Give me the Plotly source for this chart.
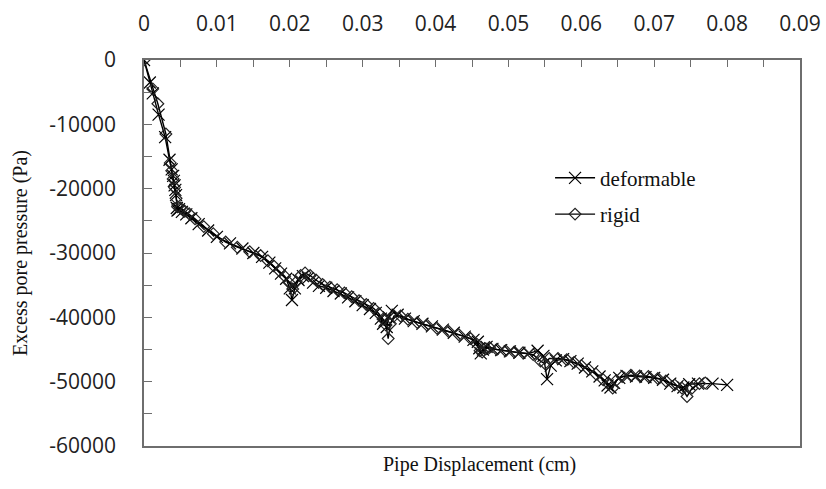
import plotly.graph_objects as go

# ---- data ----
def_x = [0, 0.0008, 0.0012, 0.002, 0.0029, 0.0035, 0.0038, 0.0040, 0.0041, 0.0042,
         0.0043, 0.0044, 0.0045, 0.0046, 0.0048, 0.0052, 0.0058, 0.0065, 0.0075, 0.0088,
         0.0100, 0.0118, 0.0135, 0.0150, 0.0162, 0.0172, 0.0180, 0.0188, 0.0195, 0.0200,
         0.0203, 0.0207, 0.0212, 0.0218, 0.0225, 0.0232, 0.0240, 0.0250, 0.0260, 0.0270,
         0.0280, 0.0290, 0.0300, 0.0310, 0.0318, 0.0325, 0.0328, 0.0330, 0.0333, 0.0336,
         0.0340, 0.0348, 0.0358, 0.0370, 0.0382, 0.0395, 0.0410, 0.0425, 0.0440, 0.0452,
         0.0458, 0.0460, 0.0462, 0.0465, 0.0470, 0.0478, 0.0490, 0.0502, 0.0515, 0.0528,
         0.0540, 0.0548, 0.0553, 0.0558, 0.0565, 0.0575, 0.0585, 0.0595, 0.0605, 0.0615,
         0.0625, 0.0632, 0.0636, 0.0640, 0.0645, 0.0652, 0.0662, 0.0675, 0.0688, 0.0700,
         0.0712, 0.0722, 0.0732, 0.0740, 0.0748, 0.0760, 0.0780, 0.0800]
def_y = [0, -3500, -5200, -8500, -12000, -15500, -17000, -18000, -18800, -19500,
         -20200, -21000, -23000, -23400, -23200, -23600, -24000, -24600, -25500, -26500,
         -27500, -28500, -29300, -30000, -30600, -31500, -32400, -33200, -34000, -35500,
         -37300, -35500, -34200, -33600, -33900, -34600, -35100, -35400, -35900, -36300,
         -36900, -37500, -38100, -38700, -39300, -40200, -41000, -40500, -41500, -40000,
         -39000, -39600, -40200, -40600, -41000, -41400, -41900, -42400, -43000, -43500,
         -43800, -44800, -45600, -45000, -44600, -44900, -45100, -45300, -45500, -45600,
         -45200, -46000, -49600, -47500, -46700, -46500, -46800, -47200, -47800, -48400,
         -49200, -49800, -50600, -50900, -50200, -49400, -49100, -49200, -49300, -49400,
         -49700, -50300, -50700, -50900, -50400, -50300, -50300, -50500]

rig_x = [0, 0.0012, 0.0019, 0.0030, 0.0036, 0.0038, 0.0040, 0.0042, 0.0044, 0.0046,
         0.0050, 0.0056, 0.0062, 0.0070, 0.0082, 0.0095, 0.0112, 0.0128, 0.0145, 0.0160,
         0.0170, 0.0178, 0.0186, 0.0193, 0.0199, 0.0204, 0.0209, 0.0215, 0.0221, 0.0228,
         0.0236, 0.0245, 0.0255, 0.0265, 0.0275, 0.0285, 0.0295, 0.0305, 0.0315, 0.0322,
         0.0328, 0.0332, 0.0335, 0.0338, 0.0343, 0.0352, 0.0362, 0.0375, 0.0388, 0.0402,
         0.0418, 0.0432, 0.0448, 0.0457, 0.0461, 0.0464, 0.0468, 0.0474, 0.0484, 0.0496,
         0.0508, 0.0520, 0.0534, 0.0544, 0.0550, 0.0556, 0.0568, 0.0580, 0.0590, 0.0600,
         0.0610, 0.0620, 0.0630, 0.0638, 0.0643, 0.0648, 0.0656, 0.0668, 0.0680, 0.0692,
         0.0705, 0.0716, 0.0728, 0.0738, 0.0745, 0.0752, 0.0762, 0.0770]
rig_y = [0, -4500, -6800, -11500, -16000, -17200, -18500, -19800, -21500, -22800,
         -23000, -23500, -23900, -24700, -25900, -27000, -28300, -29100, -29800, -30400,
         -31200, -32000, -32800, -33600, -34600, -35600, -34500, -33500, -33100, -33500,
         -34200, -34900, -35300, -35700, -36200, -36800, -37400, -38000, -38600, -39400,
         -40300, -41200, -43300, -41000, -39800, -39800, -40300, -40800, -41200, -41700,
         -42200, -42700, -43300, -44200, -45200, -45400, -44900, -44700, -45000, -45200,
         -45400, -45500, -45800, -46800, -47200, -46400, -46400, -46600, -47000, -47500,
         -48100, -48800, -49700, -50400, -51000, -49800, -49200, -49000, -49100, -49200,
         -49500, -49900, -50500, -51000, -52300, -51000, -50300, -50200]

x_ticks = [0, 0.01, 0.02, 0.03, 0.04, 0.05, 0.06, 0.07, 0.08, 0.09]
x_tick_labels = ["0", "0.01", "0.02", "0.03", "0.04", "0.05", "0.06", "0.07", "0.08", "0.09"]
y_ticks = [0, -10000, -20000, -30000, -40000, -50000, -60000]
y_tick_labels = ["0", "-10000", "-20000", "-30000", "-40000", "-50000", "-60000"]

AX = "#6e6e6e"
SERIF = "Liberation Serif"
SANS = "Open Sans"

fig = go.Figure()
fig.add_trace(go.Scatter(
    x=def_x, y=def_y, name="deformable", mode="lines+markers", legendgroup="a",
    line=dict(color="black", width=1.4),
    marker=dict(symbol="x-thin-open", size=12, line=dict(color="#222", width=1.2)),
))
fig.add_trace(go.Scatter(
    x=rig_x, y=rig_y, name="rigid", mode="lines+markers", legendgroup="b",
    line=dict(color="black", width=1.4),
    marker=dict(symbol="diamond-open", size=9, color="#222", line=dict(color="#222", width=1.2)),
))

fig.update_layout(
    width=826, height=489,
    margin=dict(l=144, r=26, t=60, b=43),
    paper_bgcolor="white", plot_bgcolor="white",
    showlegend=True,
    legend=dict(x=0.619, y=0.747, xanchor="left", yanchor="top",
                bgcolor="rgba(0,0,0,0)", font=dict(family=SERIF, size=21, color="#111"),
                tracegroupgap=6, itemwidth=40),
    xaxis=dict(
        side="top", range=[0, 0.09], tickvals=x_ticks, ticktext=x_tick_labels,
        ticks="inside", ticklen=7, tickcolor=AX, tickwidth=1.3,
        minor=dict(dtick=0.005, tick0=0, ticks="inside", ticklen=7, tickcolor=AX, tickwidth=1.3),
        showline=True, linecolor=AX, linewidth=1.6, mirror=True,
        showgrid=False, zeroline=False, automargin=False,
        tickfont=dict(family=SANS, size=21, color="#222"),
        ticklabelstandoff=19,
    ),
    yaxis=dict(
        range=[-60000, 0], tickvals=y_ticks, ticktext=y_tick_labels,
        ticks="inside", ticklen=8, tickcolor=AX, tickwidth=1.3,
        minor=dict(dtick=5000, tick0=0, ticks="inside", ticklen=8, tickcolor=AX, tickwidth=1.3),
        showline=True, linecolor=AX, linewidth=1.6, mirror=True,
        showgrid=False, zeroline=False, automargin=False,
        tickfont=dict(family=SANS, size=21, color="#222"),
        ticklabelstandoff=22,
    ),
    annotations=[
        dict(text="Pipe Displacement (cm)", xref="paper", yref="paper",
             x=0.511, y=-0.047, xanchor="center", yanchor="middle", showarrow=False,
             font=dict(family=SERIF, size=20, color="#111")),
        dict(text="Excess pore pressure (Pa)", xref="paper", yref="paper",
             x=(20 - 144) / 656, y=0.5, xanchor="center", yanchor="middle", showarrow=False,
             textangle=-90, font=dict(family=SERIF, size=20, color="#111")),
    ],
)

fig.write_html("out.html")
